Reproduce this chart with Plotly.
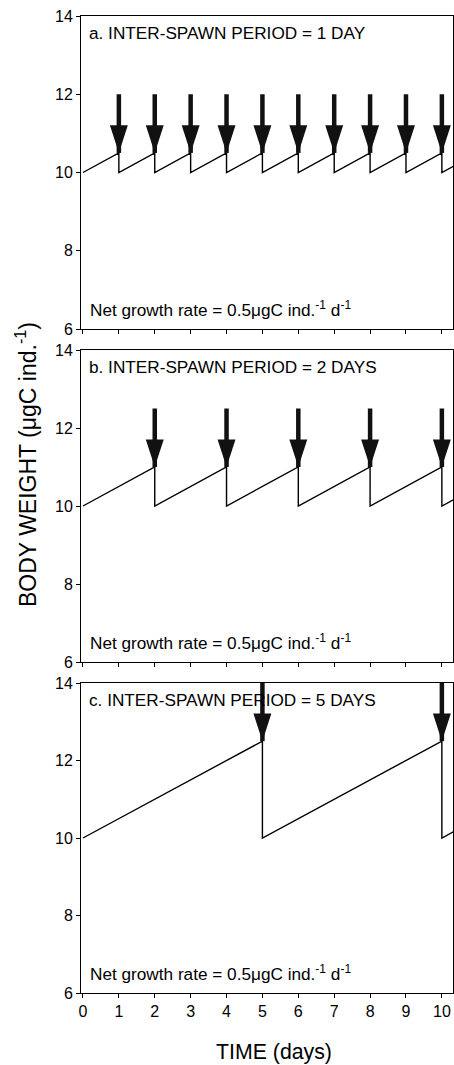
import plotly.graph_objects as go

# ---------------- data ----------------
x_ticks = [0, 1, 2, 3, 4, 5, 6, 7, 8, 9, 10]
y_ticks = [6, 8, 10, 12, 14]

time_a = [0, 1, 1, 2, 2, 3, 3, 4, 4, 5, 5, 6, 6, 7, 7, 8, 8, 9, 9, 10, 10, 10.35]
weight_a = [10, 10.5, 10, 10.5, 10, 10.5, 10, 10.5, 10, 10.5, 10, 10.5, 10, 10.5, 10, 10.5, 10, 10.5, 10, 10.5, 10, 10.175]

time_b = [0, 2, 2, 4, 4, 6, 6, 8, 8, 10, 10, 10.35]
weight_b = [10, 11, 10, 11, 10, 11, 10, 11, 10, 11, 10, 10.175]

time_c = [0, 5, 5, 10, 10, 10.35]
weight_c = [10, 12.5, 10, 12.5, 10, 10.175]

spawn_a = [1, 2, 3, 4, 5, 6, 7, 8, 9, 10]
peak_a = [10.5, 10.5, 10.5, 10.5, 10.5, 10.5, 10.5, 10.5, 10.5, 10.5]
arrow_top_a = 12

spawn_b = [2, 4, 6, 8, 10]
peak_b = [11, 11, 11, 11, 11]
arrow_top_b = 12.5

spawn_c = [5, 10]
peak_c = [12.5, 12.5]
arrow_top_c = 14

titles = ["a. INTER-SPAWN PERIOD = 1 DAY",
          "b. INTER-SPAWN PERIOD = 2 DAYS",
          "c. INTER-SPAWN PERIOD = 5 DAYS"]
rate_label = "Net growth rate = 0.5\u03bcgC ind.<sup>-1</sup> d<sup>-1</sup>"
x_title = "TIME (days)"
y_title = "BODY WEIGHT (\u03bcgC ind.<sup>-1</sup>)"

# ---------------- layout helpers ----------------
W, H = 454, 1065
ML, MR, MT, MB = 81, 1, 16, 72
plot_h = H - MT - MB
FONT = "Liberation Sans, Arial, sans-serif"

def ydom(top_px, bot_px):
    return [(H - MB - bot_px) / plot_h, (H - MB - top_px) / plot_h]

domains = [ydom(16, 329), ydom(350, 662), ydom(683, 993)]

fig = go.Figure()

panels = [
    (time_a, weight_a, spawn_a, peak_a, arrow_top_a),
    (time_b, weight_b, spawn_b, peak_b, arrow_top_b),
    (time_c, weight_c, spawn_c, peak_c, arrow_top_c),
]

annotations = []
for i, (t, w, sx, sy, top) in enumerate(panels):
    n = "" if i == 0 else str(i + 1)
    xa, ya = "x" + n, "y" + n
    fig.add_trace(go.Scatter(x=t, y=w, mode="lines", xaxis=xa, yaxis=ya,
                             line=dict(color="black", width=1.4),
                             showlegend=False, hoverinfo="skip"))
    # arrow shafts
    shaft_x, shaft_y = [], []
    for xv, yv in zip(sx, sy):
        shaft_x += [xv, xv, None]
        shaft_y += [top, yv, None]
    fig.add_trace(go.Scatter(x=shaft_x, y=shaft_y, mode="lines", xaxis=xa, yaxis=ya,
                             line=dict(color="#111111", width=4.5),
                             showlegend=False, hoverinfo="skip", cliponaxis=False))
    # arrow heads
    fig.add_trace(go.Scatter(x=sx, y=sy, mode="markers", xaxis=xa, yaxis=ya,
                             marker=dict(symbol="arrow", angle=180, size=29,
                                         color="#111111", line=dict(width=0)),
                             showlegend=False, hoverinfo="skip", cliponaxis=False))
    annotations.append(dict(text=titles[i], xref=xa + " domain", yref=ya + " domain",
                            x=0.016, y=0.946, xanchor="left", yanchor="middle",
                            showarrow=False, font=dict(size=17.2, color="black", family=FONT)))
    annotations.append(dict(text=rate_label, xref=xa + " domain", yref=ya + " domain",
                            x=0.02, y=0.064, xanchor="left", yanchor="middle",
                            showarrow=False, font=dict(size=17.2, color="black", family=FONT)))

    axis_common = dict(showline=True, linecolor="black", linewidth=1, mirror=True,
                       ticks="outside", ticklen=4, tickcolor="black", showgrid=False,
                       zeroline=False)
    xkey = "xaxis" + n
    ykey = "yaxis" + n
    fig.update_layout({
        xkey: dict(range=[-0.055, 10.31], domain=[0, 1], anchor=ya,
                   tickvals=x_ticks, showticklabels=(i == 2),
                   tickfont=dict(size=16, family=FONT, color="black"), **axis_common),
        ykey: dict(range=[6, 14], domain=domains[i], anchor=xa,
                   tickvals=y_ticks, tickfont=dict(size=16, family=FONT, color="black"),
                   **axis_common),
    })

annotations.append(dict(text=x_title, xref="paper", yref="paper",
                        x=(274 - ML) / (W - ML - MR), y=(H - MB - 1052) / plot_h,
                        xanchor="center", yanchor="middle", showarrow=False,
                        font=dict(size=21.3, color="black", family=FONT)))
annotations.append(dict(text=y_title, xref="paper", yref="paper",
                        x=(26 - ML) / (W - ML - MR), y=(H - MB - 465) / plot_h,
                        xanchor="center", yanchor="middle", textangle=-90, showarrow=False,
                        font=dict(size=23, color="black", family=FONT)))

fig.update_layout(width=W, height=H, margin=dict(l=ML, r=MR, t=MT, b=MB),
                  paper_bgcolor="white", plot_bgcolor="white",
                  font=dict(family=FONT, color="black"),
                  annotations=annotations, hovermode=False)

fig.write_html("out.html", config={"displayModeBar": False, "staticPlot": True},
               post_script="document.body.style.margin='0';document.body.style.overflow='hidden';")
